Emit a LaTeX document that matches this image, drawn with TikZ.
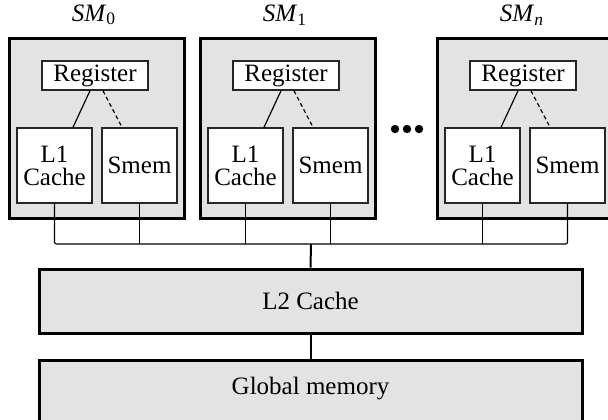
\documentclass[tikz,border=0pt]{standalone}
\usepackage{fontspec}
\setmainfont{Liberation Serif}
\usepackage{tikz}
\usetikzlibrary{%
calc,%
positioning}

\tikzset{
  smbox/.style={draw,line width=1.5pt,fill=black!11,minimum width=87.5pt,minimum height=90pt,inner sep=0pt},
  unitbox/.style={draw=black!85,line width=0.75pt,fill=white,inner sep=0pt,align=center},
  membox/.style={draw,line width=1.5pt,fill=black!11,minimum width=271.5pt,inner sep=0pt},
  conn/.style={line width=0.6pt},
}

\begin{document}
\begin{tikzpicture}[x=0.5pt,y=-0.5pt,font=\fontsize{12.5}{11.5}\selectfont]
\useasboundingbox (0,0) rectangle (608,419);
% streaming multiprocessors
\foreach \i/\x/\sub in {0/9/0,1/200/1,n/437/\textit{n}}{
  \node[smbox] (sm\i) at (\x+87.5,128) {};
  \node (lab\i) at (\x+85,15) {\textit{SM}\textsubscript{\sub}};
  \node[unitbox,minimum width=53pt,minimum height=14.5pt] (reg\i) at (\x+86,75.5) {Register};
  \node[unitbox,minimum width=37.5pt,minimum height=37.5pt] (l1\i) at (\x+45.5,165.5) {L1\\Cache};
  \node[unitbox,minimum width=37.5pt,minimum height=37.5pt] (smem\i) at (\x+130.5,165.5) {Smem};
  \draw[conn] ([xshift=-2.5pt]reg\i.south) -- ([xshift=9.25pt]l1\i.north);
  \draw[conn,dash pattern=on 2pt off 1.5pt] ([xshift=4pt]reg\i.south) -- ([xshift=-8.75pt]smem\i.north);
}
% dots between SM_1 and SM_n
\fill (395,129) circle (2.1pt) (407,129) circle (2.1pt) (419,129) circle (2.1pt);

% memories
\node[membox,minimum height=32pt] (l2) at (310.5,301) {L2 Cache};
\node[membox,anchor=north,inner ysep=0pt,text height=17pt,text depth=15pt] (glob) at (310.5,359) {Global memory};

% bus
\coordinate (bus) at (311,244);
\draw[conn,rounded corners=1pt] (l10.south) |- (bus) -| (smemn.south);
\foreach \s in {smem0,l11,smem1,l1n}
  \draw[conn] (\s.south) -- (\s.south |- bus);
\draw[line width=1pt] (bus) -- (l2.north);
\draw[line width=1pt] (l2.south) -- (glob.north);
\end{tikzpicture}
\end{document}
